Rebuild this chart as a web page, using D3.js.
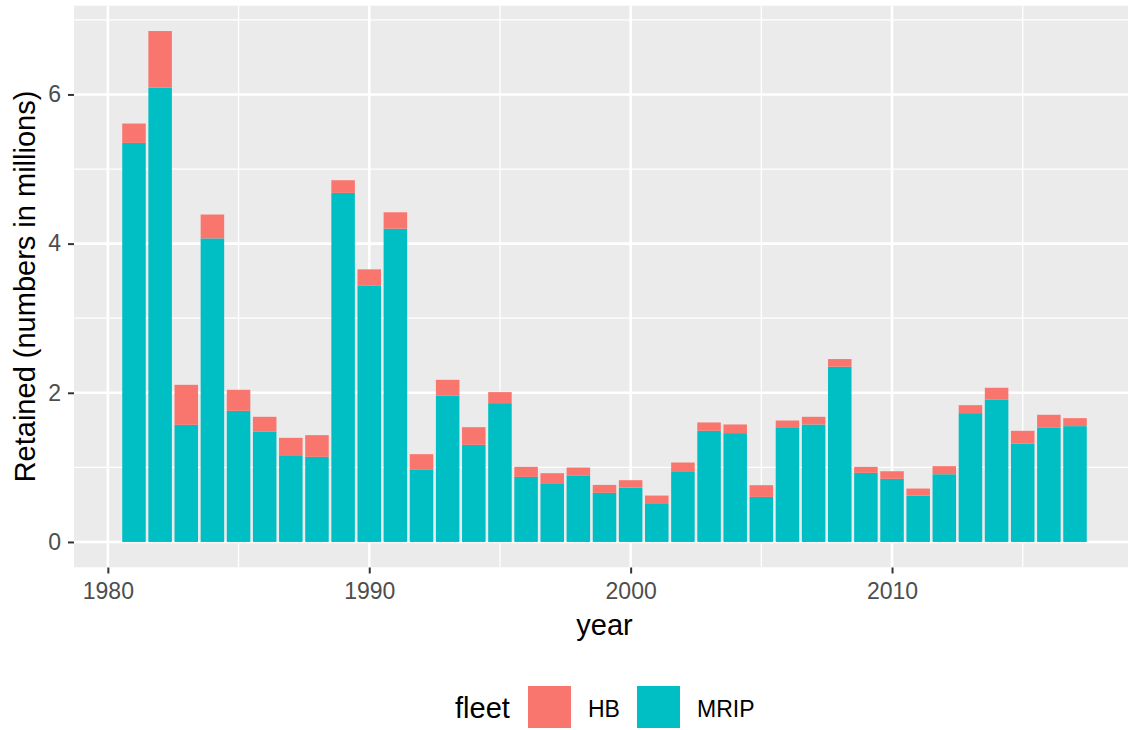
<!DOCTYPE html>
<html>
<head>
<meta charset="utf-8">
<script src="https://cdn.jsdelivr.net/npm/d3@7"></script>
<style>
  html, body { margin: 0; padding: 0; background: #ffffff; }
  svg { display: block; font-family: "Liberation Sans", Arial, sans-serif; }
</style>
</head>
<body>
<svg id="chart" width="1128" height="730"></svg>
<script>
// ---- data ----
const years = [1981,1982,1983,1984,1985,1986,1987,1988,1989,1990,1991,1992,1993,1994,1995,1996,1997,1998,1999,2000,
               2001,2002,2003,2004,2005,2006,2007,2008,2009,2010,2011,2012,2013,2014,2015,2016,2017];
const mrip = [5.35,6.09,1.570,4.07,1.758,1.477,1.163,1.141,4.68,3.44,4.20,0.966,1.964,1.302,1.861,0.872,0.787,0.886,0.658,0.729,
              0.519,0.948,1.490,1.459,0.604,1.528,1.575,2.349,0.926,0.846,0.622,0.908,1.727,1.906,1.320,1.530,1.553];
const hb   = [0.26,0.76,0.537,0.32,0.282,0.201,0.233,0.291,0.17,0.215,0.22,0.211,0.210,0.237,0.148,0.135,0.135,0.112,0.107,0.099,
              0.103,0.117,0.112,0.116,0.157,0.100,0.103,0.103,0.081,0.102,0.094,0.108,0.107,0.161,0.170,0.175,0.107];
const fleets = ["HB", "MRIP"];
const fleetColors = ["#F8766D", "#00BFC4"];
const xTicks = [1980, 1990, 2000, 2010];
const xMinor = [1985, 1995, 2005, 2015];
const yTicks = [0, 2, 4, 6];
const yMinor = [1, 3, 5, 7];

// ---- layout ----
const panel = { left: 74, right: 1135, top: 5.5, bottom: 567.5 };
const svg = d3.select("#chart");

const rows = years.map((y, i) => ({ year: y, MRIP: mrip[i], HB: hb[i] }));
// stack: MRIP at bottom, HB on top
const stack = d3.stack().keys(["MRIP", "HB"])(rows);

const barW = 0.9;
const xMin = d3.min(years) - barW / 2, xMax = d3.max(years) + barW / 2;
const xPad = (xMax - xMin) * 0.05;
const x = d3.scaleLinear().domain([xMin - xPad, xMax + xPad]).range([panel.left, panel.right]);

const yMax = d3.max(rows, d => d.MRIP + d.HB);
const yPad = yMax * 0.05;
const y = d3.scaleLinear().domain([-yPad, yMax + yPad]).range([panel.bottom, panel.top]);

const color = d3.scaleOrdinal().domain(fleets).range(fleetColors);

svg.append("defs").append("clipPath").attr("id", "clip")
  .append("rect").attr("x", panel.left).attr("y", panel.top)
  .attr("width", panel.right - panel.left).attr("height", panel.bottom - panel.top);

const g = svg.append("g").attr("clip-path", "url(#clip)");
g.append("rect").attr("x", panel.left).attr("y", panel.top)
  .attr("width", panel.right - panel.left).attr("height", panel.bottom - panel.top)
  .attr("fill", "#EBEBEB");

// minor grid
g.selectAll(".ymin").data(yMinor).join("line")
  .attr("x1", panel.left).attr("x2", panel.right)
  .attr("y1", d => y(d)).attr("y2", d => y(d))
  .attr("stroke", "#ffffff").attr("stroke-width", 1.3);
g.selectAll(".xmin").data(xMinor).join("line")
  .attr("y1", panel.top).attr("y2", panel.bottom)
  .attr("x1", d => x(d)).attr("x2", d => x(d))
  .attr("stroke", "#ffffff").attr("stroke-width", 1.3);
// major grid
g.selectAll(".ymaj").data(yTicks).join("line")
  .attr("x1", panel.left).attr("x2", panel.right)
  .attr("y1", d => y(d)).attr("y2", d => y(d))
  .attr("stroke", "#ffffff").attr("stroke-width", 2.6);
g.selectAll(".xmaj").data(xTicks).join("line")
  .attr("y1", panel.top).attr("y2", panel.bottom)
  .attr("x1", d => x(d)).attr("x2", d => x(d))
  .attr("stroke", "#ffffff").attr("stroke-width", 2.6);

// bars
const wpx = x(barW) - x(0);
g.selectAll(".layer").data(stack).join("g")
  .attr("fill", d => color(d.key))
  .selectAll("rect").data(d => d).join("rect")
  .attr("x", d => x(d.data.year) - wpx / 2)
  .attr("width", wpx)
  .attr("y", d => y(d[1]))
  .attr("height", d => y(d[0]) - y(d[1]));

// axes
const xAxis = d3.axisBottom(x).tickValues(xTicks).tickFormat(d3.format("d")).tickSizeOuter(0).tickSize(6).tickPadding(9);
const yAxis = d3.axisLeft(y).tickValues(yTicks).tickFormat(d3.format("d")).tickSizeOuter(0).tickSize(6).tickPadding(7);

const gx = svg.append("g").attr("transform", `translate(0,${panel.bottom})`).call(xAxis);
const gy = svg.append("g").attr("transform", `translate(${panel.left},0)`).call(yAxis);
[gx, gy].forEach(a => {
  a.select(".domain").remove();
  a.selectAll(".tick line").attr("stroke", "#333333").attr("stroke-width", 2);
  a.selectAll(".tick text").attr("fill", "#4D4D4D").style("font-size", "23px")
    .style("font-family", "'Liberation Sans', Arial, sans-serif");
});
gx.selectAll(".tick text").attr("dy", "0.71em");

// axis titles
svg.append("text").attr("x", (panel.left + panel.right) / 2).attr("y", 635)
  .attr("text-anchor", "middle").style("font-size", "29px").attr("fill", "#000")
  .text("year");
svg.append("text")
  .attr("transform", `translate(35,${(panel.top + panel.bottom) / 2}) rotate(-90)`)
  .attr("text-anchor", "middle").style("font-size", "29px").attr("fill", "#000")
  .text("Retained (numbers in millions)");

// legend
const lg = svg.append("g");
lg.append("text").attr("x", 455).attr("y", 718).style("font-size", "29px").attr("fill", "#000").text("fleet");
const keyX = [528, 637];
const labX = [588, 697];
fleets.forEach((f, i) => {
  lg.append("rect").attr("x", keyX[i]).attr("y", 686).attr("width", 43).attr("height", 42)
    .attr("fill", color(f));
  lg.append("text").attr("x", labX[i]).attr("y", 717).style("font-size", "23px").attr("fill", "#000").text(f);
});
</script>
</body>
</html>
